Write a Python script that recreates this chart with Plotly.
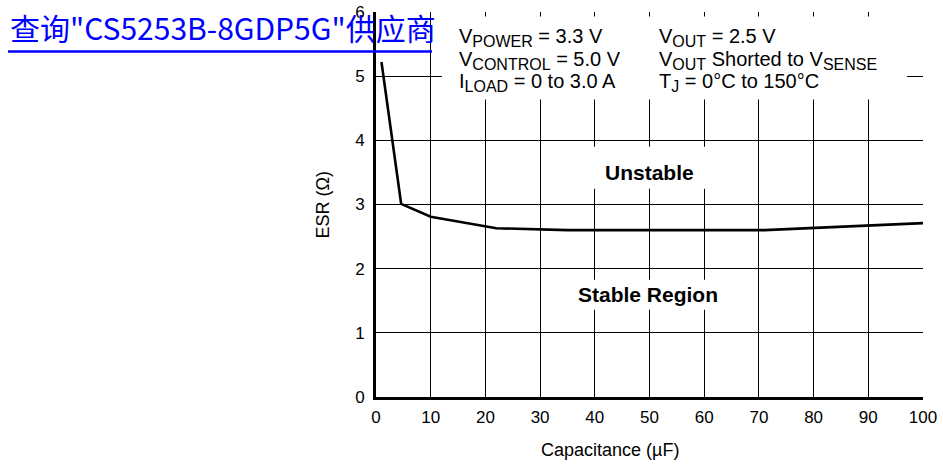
import plotly.graph_objects as go

# Data
capacitance = [1.0, 4.6, 10, 22, 35, 71, 100]
esr = [5.22, 3.01, 2.81, 2.63, 2.60, 2.60, 2.71]

x_ticks = [0, 10, 20, 30, 40, 50, 60, 70, 80, 90, 100]
y_ticks = [0, 1, 2, 3, 4, 5, 6]


def sub(s):
    return "<sub><span style='font-size:16px'>" + s + "</span></sub>"


cond_left = ["V" + sub("POWER") + " = 3.3 V", "V" + sub("CONTROL") + " = 5.0 V", "I" + sub("LOAD") + " = 0 to 3.0 A"]
cond_right = ["V" + sub("OUT") + " = 2.5 V", "V" + sub("OUT") + " Shorted to V" + sub("SENSE"),
              "T" + sub("J") + " = 0°C to 150°C"]
cond_rows_y = [5.60, 5.25, 4.90]

FONT = "Arial, Liberation Sans, sans-serif"

fig = go.Figure()
fig.add_trace(go.Scatter(x=capacitance, y=esr, mode="lines",
                         line=dict(color="black", width=2.6), hoverinfo="skip"))

shapes = [
    dict(type="rect", xref="x", yref="y", x0=12.07, x1=97.07, y0=4.635, y1=5.93,
         fillcolor="white", line=dict(width=0), layer="between"),
    dict(type="rect", xref="x", yref="y", x0=39.1, x1=61.06, y0=3.246, y1=3.90,
         fillcolor="white", line=dict(width=0), layer="between"),
    dict(type="rect", xref="x", yref="y", x0=36.4, x1=63.25, y0=1.358, y1=1.826,
         fillcolor="white", line=dict(width=0), layer="between"),
    dict(type="line", xref="paper", yref="paper", x0=-0.6728, x1=0.1024, y0=0.8974, y1=0.8974,
         line=dict(color="#0000ff", width=2.5)),
]

annotations = []
for txt, yy in zip(cond_left, cond_rows_y):
    annotations.append(dict(x=14.81, y=yy, xref="x", yref="y", text=txt, showarrow=False,
                            xanchor="left", yanchor="middle", font=dict(family=FONT, size=20, color="black")))
for txt, yy in zip(cond_right, cond_rows_y):
    annotations.append(dict(x=51.37, y=yy, xref="x", yref="y", text=txt, showarrow=False,
                            xanchor="left", yanchor="middle", font=dict(family=FONT, size=20, color="black")))

annotations += [
    dict(x=50.09, y=3.503, xref="x", yref="y", text="<b>Unstable</b>", showarrow=False,
         font=dict(family=FONT, size=21, color="black")),
    dict(x=49.8, y=1.59, xref="x", yref="y", text="<b>Stable Region</b>", showarrow=False,
         font=dict(family=FONT, size=21, color="black")),
    dict(x=42.8, y=-0.138, xref="x", yref="paper", text="Capacitance (µF)", showarrow=False,
         xanchor="center", yanchor="middle", font=dict(family=FONT, size=18, color="black")),
    dict(x=-0.0969, y=0.5, xref="paper", yref="paper", text="ESR (Ω)", showarrow=False,
         xanchor="center", yanchor="middle", textangle=-90, font=dict(family=FONT, size=18, color="black")),
    dict(x=-0.6728, y=0.962, xref="paper", yref="paper", text='查询"CS5253B-8GDP5G"供应商',
         showarrow=False, xanchor="left", yanchor="middle",
         font=dict(family="Noto Sans CJK SC", size=30, color="#0000ff")),
]

fig.update_layout(
    width=943, height=464,
    margin=dict(l=376, r=20, t=12, b=67, autoexpand=False),
    paper_bgcolor="white", plot_bgcolor="white",
    showlegend=False,
    shapes=shapes, annotations=annotations,
    font=dict(family=FONT, size=17, color="black"),
)
fig.update_xaxes(range=[0, 100], tickvals=x_ticks, ticktext=[str(v) for v in x_ticks],
                 showgrid=True, gridcolor="black", gridwidth=1.3,
                 showline=True, linecolor="black", linewidth=3, zeroline=False,
                 ticks="", ticklabelstandoff=3, tickfont=dict(size=17), automargin=False)
fig.update_yaxes(range=[0, 6], tickvals=y_ticks, ticktext=[str(v) for v in y_ticks],
                 showgrid=True, gridcolor="black", gridwidth=1.3,
                 showline=True, linecolor="black", linewidth=3, zeroline=False,
                 ticks="", ticklabelstandoff=5, tickfont=dict(size=17), automargin=False)

fig.write_html("out.html", config={"displayModeBar": False},
               post_script="document.body.style.margin='0';document.body.style.overflow='hidden';")
